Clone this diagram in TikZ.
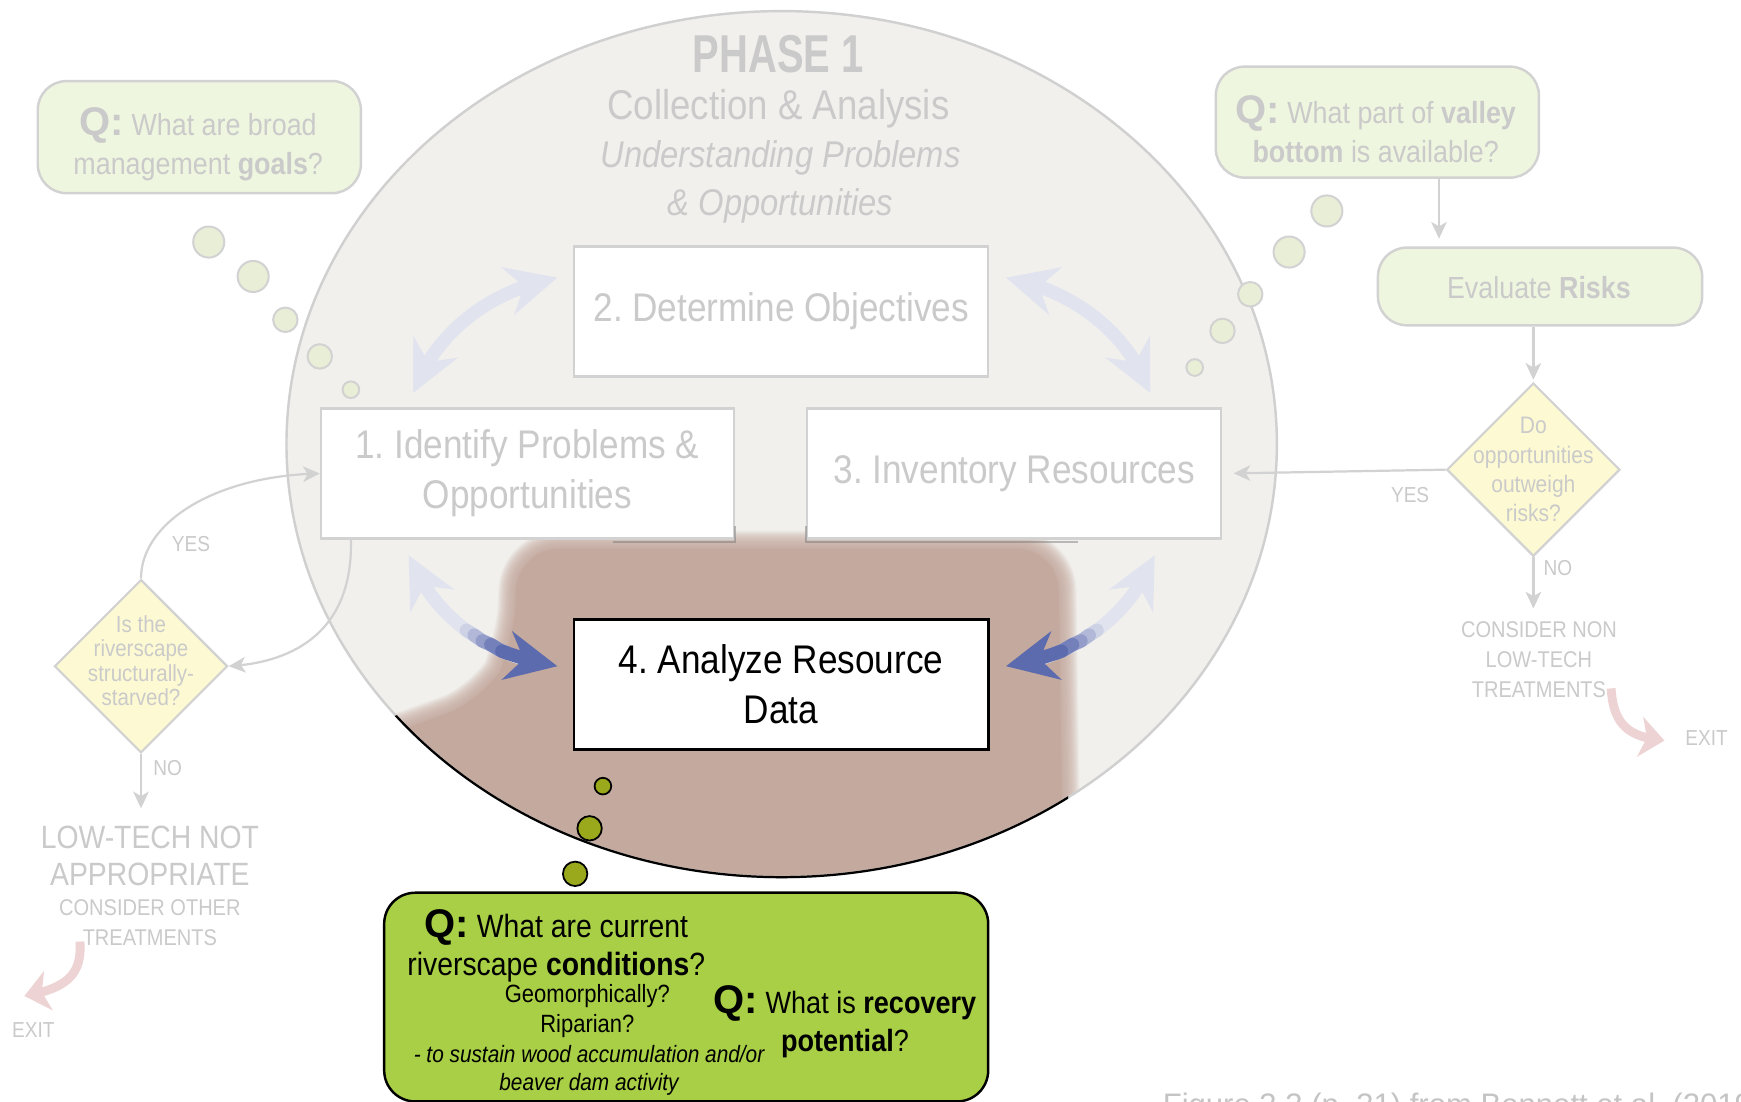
\documentclass[tikz,border=0pt]{standalone}
\usepackage{fontspec}
\setmainfont[FakeStretch=0.88]{Liberation Sans}
\newfontfamily\titlefont[FakeStretch=0.75]{Liberation Sans}
\newfontfamily\qfont{Liberation Sans}
\usetikzlibrary{arrows.meta,bending,shapes.geometric}
\definecolor{ellfill}{HTML}{F2F0ED}
\definecolor{ellline}{HTML}{D0D0D0}
\definecolor{brownish}{HTML}{C4A99E}
\definecolor{fadetext}{HTML}{CACACA}
\definecolor{boxline}{HTML}{D2D2D2}
\definecolor{qfill}{HTML}{EEF6DF}
\definecolor{bubfill}{HTML}{E9EED6}
\definecolor{diafill}{HTML}{FDFAD3}
\definecolor{lavender}{HTML}{E1E4EF}
\definecolor{deepblue}{HTML}{5C6AAE}
\definecolor{exitpink}{HTML}{EDD3D3}
\definecolor{greenbox}{HTML}{A8CF45}
\definecolor{olivegreen}{HTML}{9AA81C}
\definecolor{captext}{HTML}{C4C4C4}
\newcommand{\myfs}[2]{\fontsize{#1}{#2}\selectfont}
\newcommand{\Qmark}[1]{{\qfont\bfseries\fontsize{#1}{#1}\selectfont Q:}}
\frenchspacing
\tikzset{
  lavtip/.tip={Stealth[length=46pt,width=44pt,inset=15pt,color=lavender]},
  bluetip/.tip={Stealth[length=46pt,width=44pt,inset=15pt,color=deepblue]}
}
\begin{document}
\begin{tikzpicture}[x=1pt,y=-1pt,
  stepbox/.style={draw=boxline, line width=2pt, fill=white, minimum width=373pt, minimum height=117pt, inner sep=0pt, align=center, text=fadetext, font=\myfs{36}{45}},
  qbox/.style={draw=boxline, line width=2.2pt, fill=qfill, rounded corners=26pt, inner sep=0pt},
  qtext/.style={inner sep=0pt, align=center, text=fadetext, font=\myfs{27.5}{35}},
  bubble/.style={circle, draw=boxline, line width=1.8pt, fill=bubfill, inner sep=0pt},
  gbubble/.style={circle, draw=black, line width=1.6pt, fill=olivegreen, inner sep=0pt},
  decision/.style={diamond, aspect=1, draw=boxline, line width=2pt, fill=diafill, minimum width=156pt, minimum height=156pt, inner sep=0pt},
  dtext/.style={inner sep=0pt, align=center, text=fadetext},
  conn/.style={draw=boxline, line width=2pt, -{Stealth[length=15pt,width=14pt,inset=4pt]}},
  cyc/.style={line width=12pt, draw=lavender},
  grad/.style={line width=12pt, line cap=round, line join=round},
  exitarrow/.style={draw=exitpink, line width=8pt, -{Stealth[length=22pt,width=36pt,inset=6pt]}},
  lbl/.style={inner sep=0pt, text=fadetext, font=\myfs{19.5}{24}},
  gtext/.style={inner sep=0pt, anchor=base, text=black},
  ttl/.style={inner sep=0pt, anchor=base, text=fadetext}
]
\useasboundingbox (0,0) rectangle (1568,992);
\fill[white] (0,0) rectangle (1568,992);

% big ellipse
\fill[ellfill] (704,400) ellipse [x radius=446pt, y radius=390pt];
\begin{scope}
  \clip (704,400) ellipse [x radius=446pt, y radius=390pt];
  \foreach \w in {32,30,...,2}{
    \draw[draw=brownish, line width=\w pt, opacity=0.11, rounded corners=38pt, line join=round]
      (320,672) -- (438,630) -- (463,582) -- (466,494) -- (953,494) -- (958,830) -- (320,830) -- cycle;}
  \fill[brownish, rounded corners=38pt]
      (320,672) -- (438,630) -- (463,582) -- (466,494) -- (953,494) -- (958,830) -- (320,830) -- cycle;
\end{scope}
\draw[ellline, line width=2.2pt] (704,400) ellipse [x radius=446pt, y radius=390pt];
\begin{scope}
  \clip (300,660) -- (438,622) -- (470,600) -- (960,600) -- (964,840) -- (300,840) -- cycle;
  \draw[black, line width=2pt] (704,400) ellipse [x radius=446pt, y radius=390pt];
\end{scope}

% title
\node[ttl, font=\titlefont\bfseries\myfs{48}{48}] (ph) at (701,65) {PHASE 1};
\node[ttl, font=\myfs{37.5}{40}] (ca) at (701,108) {Collection \& Analysis};
\node[ttl, font=\itshape\myfs{33.5}{40}] (up) at (703,151) {Understanding Problems};
\node[ttl, font=\itshape\myfs{33.5}{40}] (op) at (703,194) {\& Opportunities};

% step boxes
\node[stepbox] (b2) at (703.5,280.5) {2. Determine Objectives};
\node[stepbox, minimum width=372pt] (b1) at (475,426.5) {1. Identify Problems \&\\Opportunities};
\node[stepbox] (b3) at (913.5,426.5) {3. Inventory Resources};
\draw[black!55, line width=1.3pt, opacity=0.45] ([xshift=-110pt,yshift=-2pt]b1.south east) -- ([yshift=-2pt]b1.south east) -- ([yshift=12pt]b1.south east);
\draw[black!55, line width=1.3pt, opacity=0.45] ([yshift=12pt]b3.south west) -- ([yshift=-2pt]b3.south west) -- ([xshift=-130pt,yshift=-2pt]b3.south east);
\node[stepbox, draw=black, line width=2.5pt, text=black] (b4) at (703.5,616.5) {4. Analyze Resource\\Data};

% cycle arrows
\draw[cyc, {lavtip}-{lavtip}]
  (372,354) .. controls (392,300) and (440,262) .. (502,250);
\draw[cyc, {lavtip}-{lavtip}]
  (1036,354) .. controls (1016,300) and (968,262) .. (906,250);
\draw[cyc, {lavtip}-{bluetip}]
  (368,500) .. controls (390,555) and (440,592) .. (502,600);
\draw[grad, draw=deepblue!15!lavender] (420,567.6) -- (427,572) -- (434.4,577.2);
\draw[grad, draw=deepblue!35!lavender] (427,572) -- (434.4,577.2) -- (442,580.5);
\draw[grad, draw=deepblue!58!lavender] (434.4,577.2) -- (442,580.5) -- (449.9,585.3);
\draw[grad, draw=deepblue!82!lavender] (442,580.5) -- (449.9,585.3) -- (458,588.6);
\draw[grad, draw=deepblue] (452,586.5) -- (458,588.6) -- (470,592.5);
\draw[cyc, {lavtip}-{bluetip}]
  (1040,500) .. controls (1018,555) and (968,592) .. (906,600);
\draw[grad, draw=deepblue!15!lavender] (988,567.6) -- (981,572) -- (973.6,577.2);
\draw[grad, draw=deepblue!35!lavender] (981,572) -- (973.6,577.2) -- (966,580.5);
\draw[grad, draw=deepblue!58!lavender] (973.6,577.2) -- (966,580.5) -- (958.1,585.3);
\draw[grad, draw=deepblue!82!lavender] (966,580.5) -- (958.1,585.3) -- (950,588.6);
\draw[grad, draw=deepblue] (956,586.5) -- (950,588.6) -- (938,592.5);

% thought bubbles (faded)
\node[bubble, minimum size=28pt] (tl1) at (188,218) {};
\node[bubble, minimum size=28pt] (tl2) at (228,249) {};
\node[bubble, minimum size=22pt] (tl3) at (257,288) {};
\node[bubble, minimum size=22pt] (tl4) at (288,321) {};
\node[bubble, minimum size=15pt] (tl5) at (316,351) {};
\node[bubble, minimum size=28pt] (tr1) at (1195,190) {};
\node[bubble, minimum size=28pt] (tr2) at (1161,227) {};
\node[bubble, minimum size=22pt] (tr3) at (1126,265) {};
\node[bubble, minimum size=22pt] (tr4) at (1101,298) {};
\node[bubble, minimum size=15pt] (tr5) at (1076,331) {};

% Q boxes top
\node[qbox, minimum width=291pt, minimum height=101pt] (ql) at (179.5,123.5) {};
\node[qtext] (qlt) at (178.5,130) {\Qmark{36} What are broad\\management \textbf{goals}?};
\node[qbox, minimum width=291pt, minimum height=100pt] (qr) at (1240.5,110) {};
\node[qtext] (qrt) at (1239,116) {\Qmark{36} What part of \textbf{valley}\\\textbf{bottom} is available?};
\node[qbox, minimum width=292pt, minimum height=70pt] (ev) at (1387,258) {};
\node[qtext] (evt) at (1386,259) {Evaluate \textbf{Risks}};

% right decision
\node[decision] (rd) at (1381,423) {};
\node[dtext, font=\myfs{21.5}{26.5}] (rdt) at (rd.center) {Do\\opportunities\\outweigh\\risks?};
\draw[conn, shorten >=7pt] ([xshift=55.5pt]qr.south) -- ([xshift=-91pt]ev.north);
\draw[conn, shorten >=2pt] ([xshift=-6pt]ev.south) -- (rd.north);
\draw[conn, shorten >=10pt] (rd.west) -- (b3.east);
\node[lbl] (ryes) at (1270,446) {YES};
\coordinate (rno) at (1381,548);
\draw[conn] (rd.south) -- (rno);
\node[lbl] (rnol) at (1403,512) {NO};
\node[dtext, font=\myfs{20.5}{27}] (cnon) at (1386,594) {CONSIDER NON\\LOW-TECH\\TREATMENTS};
\coordinate (rex1) at (1451,620);
\coordinate (rex2) at (1499,667);
\draw[exitarrow] (rex1) .. controls (1453,652) and (1466,664) .. (rex2);
\node[lbl] (rexit) at (1537,665) {EXIT};

% left decision
\node[decision] (ld) at (127,600) {};
\node[dtext, font=\myfs{21}{22}] (ldt) at ([yshift=5pt]ld.center) {Is the\\riverscape\\structurally-\\starved?};
\draw[conn] (ld.north) .. controls (127,470) and (195,428) .. (b1.west);
\node[lbl] (lyes) at (172,490) {YES};
\draw[conn] ([xshift=-159pt]b1.south) .. controls (318,560) and (275,596) .. (ld.east);
\coordinate (lno) at (127,728);
\draw[conn] (ld.south) -- (lno);
\node[lbl] (lnol) at (151,692) {NO};
\node[dtext, font=\myfs{29}{33}] (ltn) at (135,771) {LOW-TECH NOT\\APPROPRIATE};
\node[dtext, font=\myfs{20.5}{27}] (lco) at (135,831) {CONSIDER OTHER\\TREATMENTS};
\coordinate (lex1) at (72,848);
\coordinate (lex2) at (22,897);
\draw[exitarrow] (lex1) .. controls (74,876) and (62,890) .. (lex2);
\node[lbl] (lexit) at (30,928) {EXIT};

% green question box
\node[gbubble, minimum size=15pt] (g1) at (543,708) {};
\node[gbubble, minimum size=22pt] (g2) at (531,746) {};
\node[gbubble, minimum size=22pt] (g3) at (518,787) {};
\node[draw=black, line width=2.2pt, fill=greenbox, rounded corners=28pt, minimum width=544pt, minimum height=188pt, inner sep=0pt] (gq) at (618,898) {};
\node[gtext, font=\myfs{29}{34}] (gq1) at (501,844.5) {\Qmark{36} What are current};
\node[gtext, font=\myfs{29}{34}] (gq2) at (501,878.5) {riverscape \textbf{conditions}?};
\node[gtext, font=\myfs{22.5}{27}] (gq3) at (529,903) {Geomorphically?};
\node[gtext, font=\myfs{22.5}{27}] (gq4) at (529,930) {Riparian?};
\node[gtext, font=\itshape\myfs{21.3}{26}] (gq5) at (530.5,956.5) {- to sustain wood accumulation and/or};
\node[gtext, font=\itshape\myfs{21.3}{26}] (gq6) at (530.5,982.5) {beaver dam activity};
\node[gtext, font=\myfs{27.7}{34}] (gq7) at (761,913) {\Qmark{36} What is \textbf{recovery}};
\node[gtext, font=\myfs{27.7}{34}] (gq8) at (761,947) {\textbf{potential}?};

% caption (cut off by the page edge, as in the reference)
\node[inner sep=0pt, anchor=base west, text=captext, font=\qfont\myfs{28}{30}] (cap) at (1047,1005) {Figure 3.3 (p. 31) from Bennett et al. (2019)};
\end{tikzpicture}
\end{document}
